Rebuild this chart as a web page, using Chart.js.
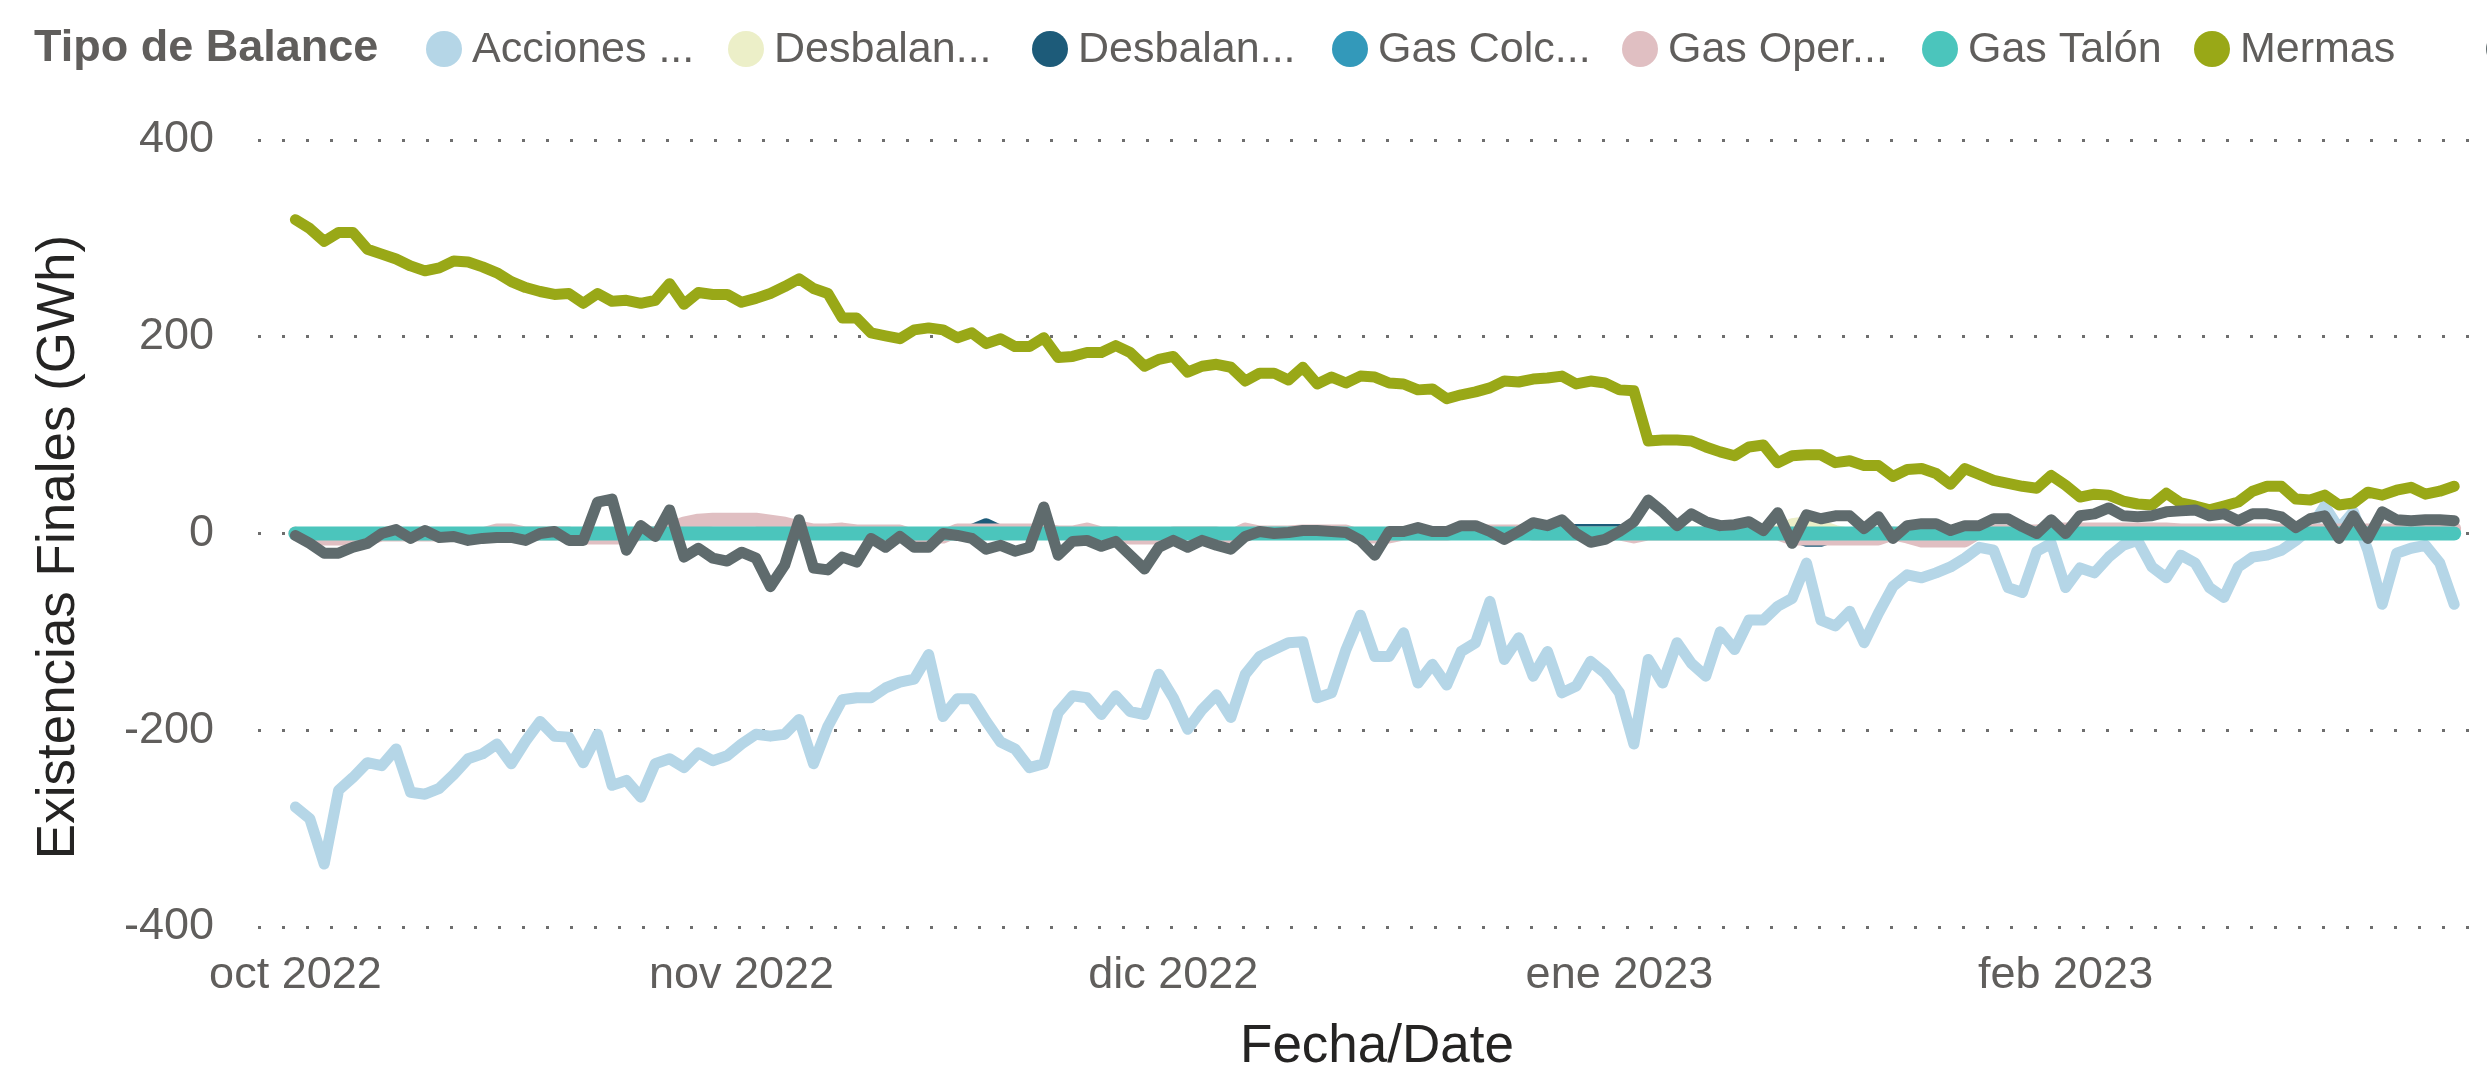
<!DOCTYPE html>
<html>
<head>
<meta charset="utf-8">
<script src="https://cdn.jsdelivr.net/npm/chart.js@4.4.0/dist/chart.umd.min.js"></script>
<style>
    html, body { margin: 0; padding: 0; background: #fff; }
    #wrap { width: 2487px; height: 1073px; }
</style>
</head>
<body>
<div id="wrap"><canvas id="chart" width="2487" height="1073"></canvas></div>
<script>
// Daily values, 1 oct 2022 .. 28 feb 2023 (day index 0..150)
const monthTickDays = [0, 31, 61, 92, 123];
const monthTickLabels = ['oct 2022', 'nov 2022', 'dic 2022', 'ene 2023', 'feb 2023'];
const yTickValues = [-400, -200, 0, 200, 400];

const seriesNames = ['Acciones ...', 'Desbalan...', 'Desbalan...', 'Gas Colc...', 'Gas Oper...', 'Gas Talón', 'Mermas', ''];
const seriesColors = ['#B5D6E7', '#ECEFC8', '#1D5B79', '#3399BA', '#E0BFC2', '#4BC5BC', '#99A817', '#5F6B6D'];

const acciones = [
    -278, -290, -336, -261, -248, -233, -236, -219, -263, -265, -259, -245, -229, -224, -214, -234, -211, -191,
    -206, -207, -233, -204, -256, -251, -268, -234, -229, -238, -223, -231, -226, -214, -204, -206, -204, -189,
    -234, -196, -169, -167, -167, -157, -151, -148, -123, -186, -168, -168, -191, -212, -219, -238, -234, -182,
    -165, -167, -184, -165, -181, -184, -143, -167, -199, -179, -164, -187, -143, -125, -118, -111, -110, -167,
    -162, -118,
    -83, -125, -125, -101, -152, -133, -154, -120, -111, -69, -128, -106, -145, -120, -162, -155, -130, -142,
    -162, -214, -128, -152, -111, -132, -145, -100, -118, -88, -88, -74, -66, -30, -88, -94, -79, -111, -81,
    -54, -42,
    -45, -40, -34, -25, -14, -17, -55, -60, -18, -10, -55, -35, -40, -24, -12, -7, -34, -45, -22, -30, -55,
    -65, -34, -24, -22, -17, -7, 5, 28, 5, 22, -17, -72, -20, -15, -12, -30, -72
];

const desbalance1 = [
    0, 0, 0, 0, 0, 0, 0, 0, 0, 0, 0, 0, 0, 0, 0, 0, 0, 0, 0, 0, 0, 0, 0, 0, 0, 0, 0, 0, 0, 0,
    0, 0, 0, 0, 0, 0, 0, 0, 0, 0, 0, 0, 0, 0, 0, 0, 0, 0, 0, 0, 0, 0, 0, 0, 0, 0, 0, 0, 0, 0,
    0, 0, 0, 0, 0, 0, 0, 0, 0, 0, 0, 0, 0, 0, 0, 0, 0, 0, 0, 0, 0, 0, 0, 0, 0, 0, 0, 0, 0, 0,
    0, 0, 0, 0, 0, 0, 0, 0, 0, 0, 0, 0, 0, 3, 10, 12, 8, 3, 0, 0, 0, 0, 0, 0, 0, 0, 0, 0, 0, 0,
    0, 0, 0, 0, 0, 0, 0, 0, 0, 0, 0, 0, 0, 0, 0, 0, 0, 0, 0, 0, 0, 0, 0, 0, 0, 0, 0, 0, 0, 0,
    0
];

const desbalance2 = [
    0, 0, 0, 0, 0, 0, 0, 0, 0, 0, 0, 0, 0, 0, 0, 0, 0, 0, 0, 0, 0, 0, 0, 0, 0, 0, 0, 0, 0, 0,
    0, 0, 0, 0, 0, 0, 0, 0, 0, 0, 0, 0, 0, 0, 0, 0, 0, 4, 10, 3, 0, 0, 0, 0, 0, 0, 0, 0, 0, 0,
    0, 0, 0, 0, 0, 0, 0, 0, 0, 0, 0, 0, 0, 0, 0, 0, 0, 0, 0, 0, 0, 0, 0, 0, 0, 0, 0, 4, 4, 4,
    4, 4, 4, 0, 0, 0, 0, 0, 0, 0, 0, 0, 0, 0, -3, -8, -8, -3, 0, 0, 0, 0, 0, 0, 0, 0, 0, 0, 0, 0,
    0, 0, 0, 0, 0, 0, 0, 0, 0, 0, 0, 0, 0, 0, 0, 0, 0, 0, 0, 0, 0, 0, 0, 0, 0, 0, 0, 0, 0, 0,
    0
];

const gasColchon = [
    0, 0, 0, 0, 0, 0, 0, 0, 0, 0, 0, 0, 0, 0, 0, 0, 0, 0, 0, 0, 0, 0, 0, 0, 0, 0, 0, 0, 0, 0,
    0, 0, 0, 0, 0, 0, 0, 0, 0, 0, 0, 0, 0, 0, 0, 0, 0, 0, 0, 0, 0, 0, 0, 0, 0, 0, 0, 0, 0, 0,
    0, 0, 0, 0, 0, 0, 0, 0, 0, 0, 0, 0, 0, 0, 0, 0, 0, 0, 0, 0, 0, 0, 0, 0, 0, 0, 0, 0, 0, 0,
    0, 0, 0, 0, 0, 0, 0, 0, 0, 0, 0, 0, 0, 0, 0, 0, 0, 0, 0, 0, 0, 0, 0, 0, 0, 0, 0, 0, 0, 0,
    0, 0, 0, 0, 0, 0, 0, 0, 0, 0, 0, 0, 0, 0, 0, 0, 0, 0, 0, 0, 0, 0, 0, 0, 0, 0, 0, 0, 0, 0,
    0
];

const gasOperativo = [
    0, -5, -5, -5, -5, -5, -1, -1, -1, -1, -1, -1, -1, -1, 3, 3, 0, 0, 0, 0, -4, -4, -4, -4, 0, 0,
    5, 10, 13, 14, 14, 14, 14, 12, 10, 6,
    3, 3, 4, 2, 2, 2, 2, -3, -3, -3, 3, 3, 3, 3, 3, 3, 3, 1, 1, 4, 0, 0, -4, -4, -4, 0, 0, 0, 0, -3,
    4, 1, 1, 1, 2, 2, 2, 2,
    -3, -3, -3, 0, 0, 0, 0, 2, 2, 2, 2, 2, 0, 0, 0, 0, 0, 0, 0, -3, 0, 0, 0, 0, 0, 0, 0, 0, 0, 0,
    -5, -5, -5, -5, -5, -5, -5, 0, -3,
    -7, -7, -7, -7, 2, 2, 2, 2, 2, 4, 4, 4, 4, 4, 4, 4, 4, 4, 3, 3, 3, 3, 3, 3, 3, 3, 3, 3,
    3, 3, 3, 3, 3, 3, 3, 3, 3, 5
];

const gasTalon = [
    0, 0, 0, 0, 0, 0, 0, 0, 0, 0, 0, 0, 0, 0, 0, 0, 0, 0, 0, 0, 0, 0, 0, 0, 0, 0, 0, 0, 0, 0,
    0, 0, 0, 0, 0, 0, 0, 0, 0, 0, 0, 0, 0, 0, 0, 0, 0, 0, 0, 0, 0, 0, 0, 0, 0, 0, 0, 0, 0, 0,
    0, 0, 0, 0, 0, 0, 0, 0, 0, 0, 0, 0, 0, 0, 0, 0, 0, 0, 0, 0, 0, 0, 0, 0, 0, 0, 0, 0, 0, 0,
    0, 0, 0, 0, 0, 0, 0, 0, 0, 0, 0, 0, 0, 0, 0, 0, 0, 0, 0, 0, 0, 0, 0, 0, 0, 0, 0, 0, 0, 0,
    0, 0, 0, 0, 0, 0, 0, 0, 0, 0, 0, 0, 0, 0, 0, 0, 0, 0, 0, 0, 0, 0, 0, 0, 0, 0, 0, 0, 0, 0,
    0
];

const mermas = [
    319, 310, 297, 306, 306, 289, 284, 279, 272, 267, 270, 277, 276, 271, 265, 256, 250, 246, 243, 244,
    234, 244, 236, 237, 234, 237, 254, 233, 245, 243, 243, 235, 239, 244, 251, 259,
    249, 244, 219, 219, 204, 201, 198, 207, 209, 207, 199, 204, 193, 198, 190, 190, 199, 179, 180, 184,
    184, 191, 184, 170, 177, 180, 164, 170, 172, 169, 155, 163, 163, 156, 169, 152, 159, 153,
    160, 159, 153, 152, 146, 147, 137, 141, 144, 148, 155, 154, 157, 158, 160, 152, 155, 153, 146, 145,
    94, 95, 95, 94, 88, 83, 79, 88, 90, 72, 79, 80, 80, 72, 74, 69, 69, 58,
    65, 66, 61, 50, 66, 60, 54, 51, 48, 46, 59, 49, 37, 40, 39, 33, 30, 29, 41, 31, 28, 24, 28, 32, 43,
    48, 48, 35, 34, 39, 29, 31, 42, 39, 44, 47, 40, 43, 48
];

const otros = [
    -2, -10, -20, -20, -14, -10, 0, 4, -5, 3, -4, -3, -7, -5, -4, -4, -7, 0, 2, -7, -7, 32, 35, -17, 8,
    -3, 24, -24, -15, -25, -28, -19, -25, -54, -32, 14,
    -35, -37, -24, -29, -5, -14, -3, -14, -14, 0, -2, -5, -16, -12, -18, -14, 27, -22, -8, -7, -13, -8,
    -22, -36, -14, -7, -14, -7, -12, -16, -3, 2, 0, 1, 3, 3, 2, 1,
    -7, -22, 2, 2, 6, 2, 2, 8, 8, 2, -6, 2, 11, 8, 14, 0, -9, -6, 2, 12, 34, 22, 8, 20, 12, 8, 9, 12,
    3, 21, -10, 19, 15, 18, 18, 5, 17, -5, 8,
    10, 10, 3, 8, 8, 15, 15, 7, 0, 14, 0, 18, 20, 26, 18, 17, 18, 22, 23, 24, 18, 20, 13, 20, 20, 17,
    6, 15, 18, -5, 18, -5, 22, 14, 13, 14, 14, 13
];

const seriesValues = [acciones, desbalance1, desbalance2, gasColchon, gasOperativo, gasTalon, mermas, otros];

const FONT = 'Liberation Sans';
const TICK_FONT = { family: FONT, size: 45 };
const TEXT_GRAY = '#605E5C';
const TITLE_COLOR = '#252423';

// legend + axis titles drawn by hand (Power BI style)
const decorPlugin = {
    id: 'pbiDecor',
    afterDraw(chart) {
        const ctx = chart.ctx;
        const y = 49;
        const markerX = [444, 746, 1050, 1350, 1640, 1940, 2212, 2504];
        ctx.save();
        ctx.textBaseline = 'middle';
        ctx.fillStyle = TEXT_GRAY;
        ctx.font = `bold 45px "${FONT}"`;
        ctx.fillText('Tipo de Balance', 34, y);
        ctx.font = `43px "${FONT}"`;
        seriesNames.forEach((name, i) => {
            ctx.beginPath();
            ctx.fillStyle = seriesColors[i];
            ctx.arc(markerX[i], y, 18, 0, Math.PI * 2);
            ctx.fill();
            ctx.fillStyle = TEXT_GRAY;
            ctx.fillText(name, markerX[i] + 28, y + 1);
        });

        // axis titles
        ctx.fillStyle = TITLE_COLOR;
        ctx.font = `53px "${FONT}"`;
        ctx.textAlign = 'center';
        ctx.fillText('Fecha/Date', 1377, 1047);
        ctx.translate(59, 547);
        ctx.rotate(-Math.PI / 2);
        ctx.fillText('Existencias Finales (GWh)', 0, 0);
        ctx.restore();
    }
};

const datasets = seriesValues.map((values, i) => ({
    label: seriesNames[i],
    data: values.map((v, d) => ({ x: d, y: v })),
    borderColor: seriesColors[i],
    backgroundColor: seriesColors[i],
    borderWidth: (i === 5 || i === 4) ? 14 : 11,
    borderJoinStyle: 'round',
    borderCapStyle: 'round',
    pointRadius: 0,
    tension: 0,
    fill: false,
    order: seriesValues.length - i,
}));

new Chart(document.getElementById('chart'), {
    type: 'line',
    data: { datasets: datasets },
    plugins: [decorPlugin],
    options: {
        responsive: false,
        animation: false,
        devicePixelRatio: 1,
        layout: { padding: { top: 140, right: 17, bottom: 0, left: 0 } },
        plugins: {
            legend: { display: false },
            tooltip: { enabled: false },
        },
        scales: {
            x: {
                type: 'linear',
                min: -2.6,
                max: 151.1,
                afterFit: (scale) => { scale.height = 146; },
                afterBuildTicks: (scale) => {
                    scale.ticks = monthTickDays.map(v => ({ value: v }));
                },
                ticks: {
                    autoSkip: false,
                    maxRotation: 0,
                    padding: 22,
                    color: TEXT_GRAY,
                    font: TICK_FONT,
                    callback: (value) => monthTickLabels[monthTickDays.indexOf(value)],
                },
                grid: { display: false, drawTicks: false },
                border: { display: false },
            },
            y: {
                min: -400,
                max: 400,
                afterFit: (scale) => { scale.width = 258; },
                afterBuildTicks: (scale) => {
                    scale.ticks = yTickValues.map(v => ({ value: v }));
                },
                ticks: {
                    padding: 44,
                    color: TEXT_GRAY,
                    font: TICK_FONT,
                },
                grid: {
                    color: '#6E6E6E',
                    lineWidth: 3,
                    drawTicks: false,
                },
                border: { display: false, dash: [3, 21] },
            },
        },
    },
});
</script>
</body>
</html>
